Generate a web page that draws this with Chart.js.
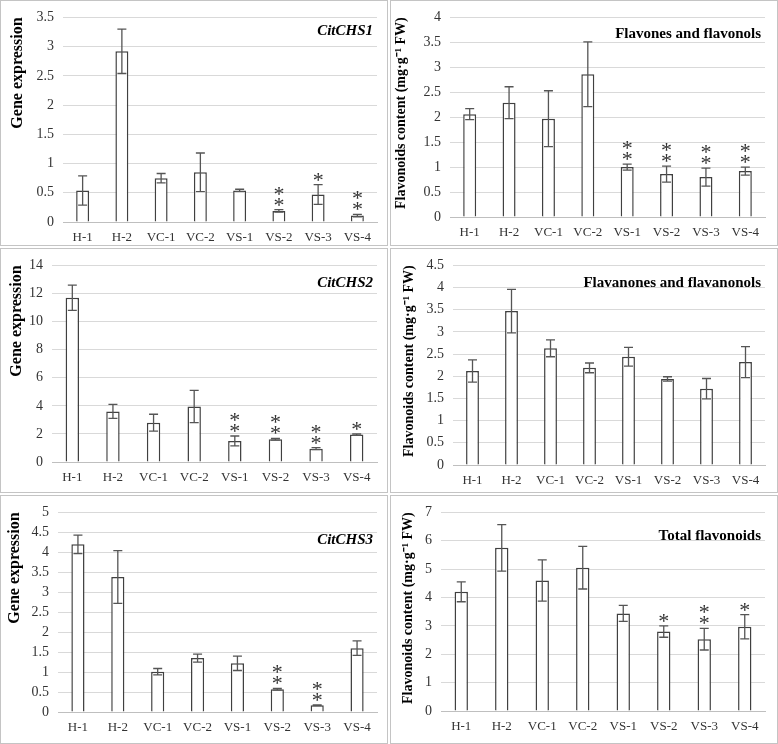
<!DOCTYPE html>
<html><head><meta charset="utf-8">
<script src="https://cdn.jsdelivr.net/npm/chart.js@4.4.0/dist/chart.umd.min.js"></script>
<style>
html,body{margin:0;padding:0;background:#fff;}
#wrap{position:relative;width:778px;height:744px;overflow:hidden;background:#fff;}
.panel{position:absolute;box-sizing:border-box;border:1px solid #c4c4c4;pointer-events:none;}
canvas{position:absolute;}
</style></head><body><div id="wrap"></div>
<script>
const categories = ['H-1','H-2','VC-1','VC-2','VS-1','VS-2','VS-3','VS-4'];

const chs1Values = [0.54, 2.92, 0.75, 0.85, 0.54, 0.19, 0.47, 0.11];
const chs1Errors = [0.25, 0.38, 0.08, 0.33, 0.02, 0.02, 0.17, 0.02];
const chs1Marks  = ['', '', '', '', '', '**', '*', '**'];

const flavonesValues = [2.06, 2.29, 1.97, 2.86, 1.00, 0.86, 0.80, 0.92];
const flavonesErrors = [0.11, 0.32, 0.56, 0.65, 0.06, 0.16, 0.18, 0.08];
const flavonesMarks  = ['', '', '', '', '**', '**', '**', '**'];

const chs2Values = [11.7, 3.6, 2.8, 3.95, 1.5, 1.62, 0.95, 1.95];
const chs2Errors = [0.9, 0.5, 0.6, 1.15, 0.35, 0.06, 0.07, 0.05];
const chs2Marks  = ['', '', '', '', '**', '**', '**', '*'];

const flavanonesValues = [2.12, 3.47, 2.63, 2.19, 2.44, 1.94, 1.72, 2.32];
const flavanonesErrors = [0.25, 0.49, 0.19, 0.11, 0.21, 0.05, 0.23, 0.35];
const flavanonesMarks  = ['', '', '', '', '', '', '', ''];

const chs3Values = [4.20, 3.38, 1.01, 1.35, 1.22, 0.57, 0.17, 1.60];
const chs3Errors = [0.23, 0.66, 0.08, 0.10, 0.18, 0.02, 0.01, 0.18];
const chs3Marks  = ['', '', '', '', '', '**', '**', ''];

const totalValues = [4.20, 5.75, 4.60, 5.05, 3.44, 2.80, 2.53, 2.97];
const totalErrors = [0.35, 0.82, 0.73, 0.75, 0.28, 0.20, 0.38, 0.43];
const totalMarks  = ['', '', '', '', '', '*', '**', '*'];

const geneTitle = 'Gene expression';
const contentTitle = 'Flavonoids content (mg\u00B7g\u207B\u00B9 FW)';

const panels = [
  {title:'CitCHS1', italic:true, yTitle:geneTitle, values:chs1Values, errors:chs1Errors, marks:chs1Marks, yMax:3.5, yStep:0.5,
   box:{x:0,y:0,w:388,h:246}, area:{left:63,top:14,right:377,bottom:222}, titleDy:14, yTitleSize:16, yTitlePad:8},
  {title:'Flavones and flavonols', italic:false, yTitle:contentTitle, values:flavonesValues, errors:flavonesErrors, marks:flavonesMarks, yMax:4, yStep:0.5,
   box:{x:390,y:0,w:388,h:246}, area:{left:60,top:10,right:375,bottom:217}, titleDy:17, yTitleSize:14, yTitlePad:3},
  {title:'CitCHS2', italic:true, yTitle:geneTitle, values:chs2Values, errors:chs2Errors, marks:chs2Marks, yMax:14, yStep:2,
   box:{x:0,y:248,w:388,h:245}, area:{left:52,top:12,right:377,bottom:214}, titleDy:18, yTitleSize:16, yTitlePad:7},
  {title:'Flavanones and flavanonols', italic:false, yTitle:contentTitle, values:flavanonesValues, errors:flavanonesErrors, marks:flavanonesMarks, yMax:4.5, yStep:0.5,
   box:{x:390,y:248,w:388,h:245}, area:{left:63,top:12,right:375,bottom:217}, titleDy:18, yTitleSize:14, yTitlePad:11},
  {title:'CitCHS3', italic:true, yTitle:geneTitle, values:chs3Values, errors:chs3Errors, marks:chs3Marks, yMax:5, yStep:0.5,
   box:{x:0,y:495,w:388,h:249}, area:{left:58,top:10,right:377,bottom:217}, titleDy:28, yTitleSize:16, yTitlePad:5},
  {title:'Total flavonoids', italic:false, yTitle:contentTitle, values:totalValues, errors:totalErrors, marks:totalMarks, yMax:7, yStep:1,
   box:{x:390,y:495,w:388,h:249}, area:{left:51,top:12,right:375,bottom:216}, titleDy:24, yTitleSize:14, yTitlePad:10}
];

const FONT = '"Liberation Serif", "Times New Roman", serif';
const wrap = document.getElementById('wrap');

function makeOverlay(p){
  return {
    id:'overlay',
    afterDatasetsDraw(chart){
      const ctx = chart.ctx;
      const ys = chart.scales.y;
      const meta = chart.getDatasetMeta(0);
      ctx.save();
      ctx.strokeStyle = '#555';
      ctx.lineWidth = 1.3;
      meta.data.forEach((bar, i) => {
        const x = bar.x;
        const hi = ys.getPixelForValue(p.values[i] + p.errors[i]);
        const lo = ys.getPixelForValue(p.values[i] - p.errors[i]);
        ctx.beginPath();
        ctx.moveTo(x, hi); ctx.lineTo(x, lo);
        ctx.moveTo(x - 4.5, hi); ctx.lineTo(x + 4.5, hi);
        ctx.moveTo(x - 4.5, lo); ctx.lineTo(x + 4.5, lo);
        ctx.stroke();
        const m = p.marks[i];
        if (m) {
          ctx.fillStyle = '#333';
          ctx.font = '22px ' + FONT;
          ctx.textAlign = 'center';
          ctx.textBaseline = 'alphabetic';
          for (let k = 0; k < m.length; k++) {
            ctx.fillText('*', x, hi + 2 - k * 11);
          }
        }
      });
      ctx.fillStyle = '#000';
      ctx.font = (p.italic ? 'italic ' : '') + 'bold 15px ' + FONT;
      ctx.textAlign = 'right';
      ctx.textBaseline = 'middle';
      ctx.fillText(p.title, chart.chartArea.right - 4, chart.chartArea.top + p.titleDy);
      ctx.restore();
    }
  };
}

panels.forEach(p => {
  const cv = document.createElement('canvas');
  cv.width = p.box.w; cv.height = p.box.h;
  cv.style.left = p.box.x + 'px'; cv.style.top = p.box.y + 'px';
  cv.style.width = p.box.w + 'px'; cv.style.height = p.box.h + 'px';
  wrap.appendChild(cv);
  const frame = document.createElement('div');
  frame.className = 'panel';
  frame.style.left = p.box.x + 'px'; frame.style.top = p.box.y + 'px';
  frame.style.width = p.box.w + 'px'; frame.style.height = p.box.h + 'px';
  wrap.appendChild(frame);

  new Chart(cv, {
    type:'bar',
    data:{labels:categories, datasets:[{data:p.values, backgroundColor:'#ffffff', borderColor:'#404040', borderWidth:1.5, barPercentage:0.33, categoryPercentage:1}]},
    options:{
      responsive:false, animation:false, devicePixelRatio:1,
      layout:{padding:{left:0, top:p.area.top, right:p.box.w - p.area.right, bottom:0}},
      plugins:{legend:{display:false}, tooltip:{enabled:false}, title:{display:false}},
      scales:{
        x:{
          grid:{display:false, drawTicks:false},
          border:{display:true, color:'#bfbfbf', width:1},
          ticks:{color:'#333', font:{family:FONT, size:13}, padding:8, autoSkip:false, maxRotation:0},
          afterFit(s){ s.height = p.box.h - p.area.bottom; }
        },
        y:{
          min:0, max:p.yMax,
          ticks:{stepSize:p.yStep, color:'#333', font:{family:FONT, size:14}, padding:9, callback:v => String(+(+v).toFixed(2))},
          grid:{color:'#d9d9d9', lineWidth:1, drawTicks:false},
          border:{display:false},
          title:{display:true, text:p.yTitle, align:'end', color:'#000', font:{family:FONT, size:p.yTitleSize, weight:'bold'}, padding:{top:p.yTitlePad, bottom:0}},
          afterFit(s){ s.width = p.area.left; }
        }
      }
    },
    plugins:[makeOverlay(p)]
  });
});
</script></body></html>
